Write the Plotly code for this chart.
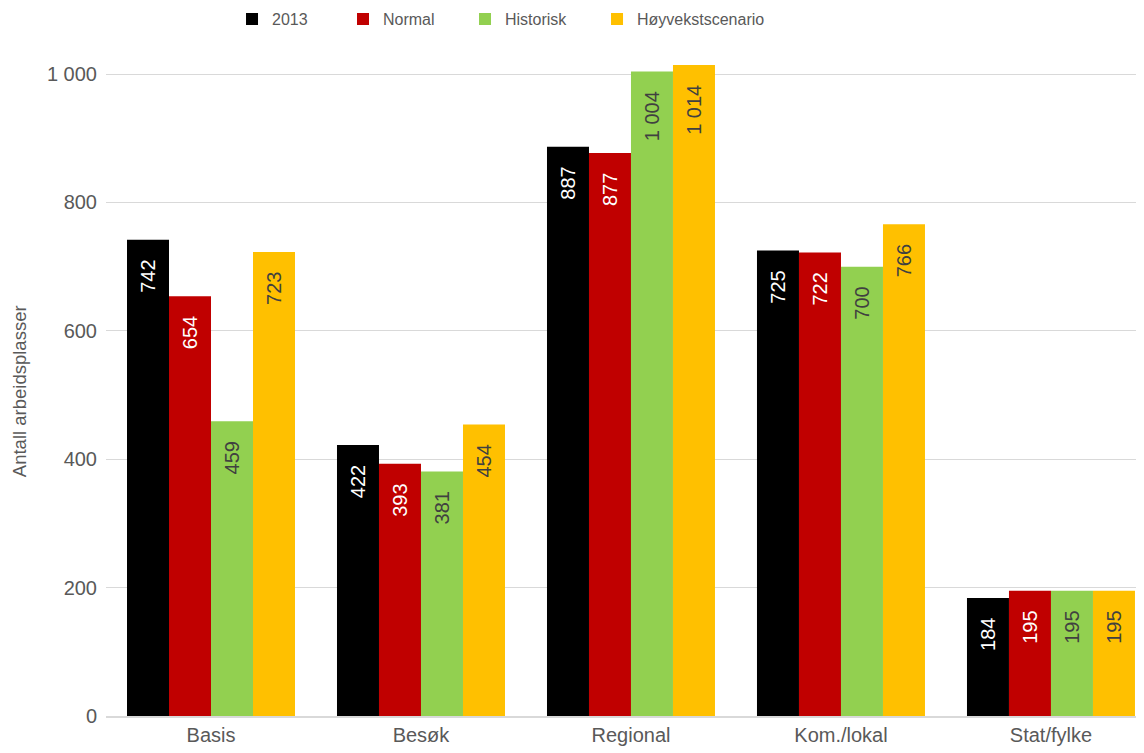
import plotly.graph_objects as go

categories = ["Basis", "Besøk", "Regional", "Kom./lokal", "Stat/fylke"]
series_names = ["2013", "Normal", "Historisk", "Høyvekstscenario"]
v2013 = [742, 422, 887, 725, 184]
vnormal = [654, 393, 877, 722, 195]
vhistorisk = [459, 381, 1004, 700, 195]
vhoy = [723, 454, 1014, 766, 195]
y_title = "Antall arbeidsplasser"

colors = ["#000000", "#C00000", "#92D050", "#FFC000"]
text_colors = ["#FFFFFF", "#FFFFFF", "#404040", "#404040"]
legend_ids = ["legend", "legend2", "legend3", "legend4"]
legend_x = [0.1972, 0.2949, 0.4023, 0.5185]
FONT = "Liberation Sans, Arial, sans-serif"

fig = go.Figure()
for name, vals, c, tc, lg in zip(series_names, [v2013, vnormal, vhistorisk, vhoy], colors, text_colors, legend_ids):
    fig.add_trace(go.Bar(
        x=categories, y=vals, name=name, legend=lg, showlegend=True,
        marker=dict(color=c, line=dict(width=0)),
        texttemplate="%{y:,}\u00a0\u00a0\u00a0", textposition="inside", insidetextanchor="end",
        textangle=-90, constraintext="none",
        textfont=dict(family=FONT, size=20, color=tc),
    ))

legend_common = dict(orientation="h", xref="container", yref="container", y=0.985,
                     xanchor="left", yanchor="middle",
                     font=dict(family=FONT, size=16, color="#595959"))
legends = {lg: dict(x=lx, **legend_common) for lg, lx in zip(legend_ids, legend_x)}

fig.update_layout(
    width=1136, height=745,
    showlegend=True,
    separators=", ",
    barmode="group", bargap=0.2, bargroupgap=0,
    plot_bgcolor="white", paper_bgcolor="white",
    font=dict(family=FONT, size=20, color="#595959"),
    margin=dict(l=98, r=0, t=34, b=37),
    xaxis=dict(range=[-0.5, 4.443], showline=True, linecolor="#D9D9D9", linewidth=1.5,
               ticks="", tickfont=dict(size=20, color="#595959")),
    yaxis=dict(range=[0, 1050], tickvals=[0, 200, 400, 600, 800, 1000], tickformat=",",
               showgrid=True, gridcolor="#D9D9D9", gridwidth=1, zeroline=False,
               tickfont=dict(size=20, color="#595959"), ticklabelstandoff=8),
    annotations=[dict(text=y_title, xref="paper", yref="paper", x=-0.0838, y=0.482,
                      xanchor="center", yanchor="middle", textangle=-90, showarrow=False,
                      font=dict(family=FONT, size=18.5, color="#595959"))],
    **legends,
)

fig.write_html("out.html")
